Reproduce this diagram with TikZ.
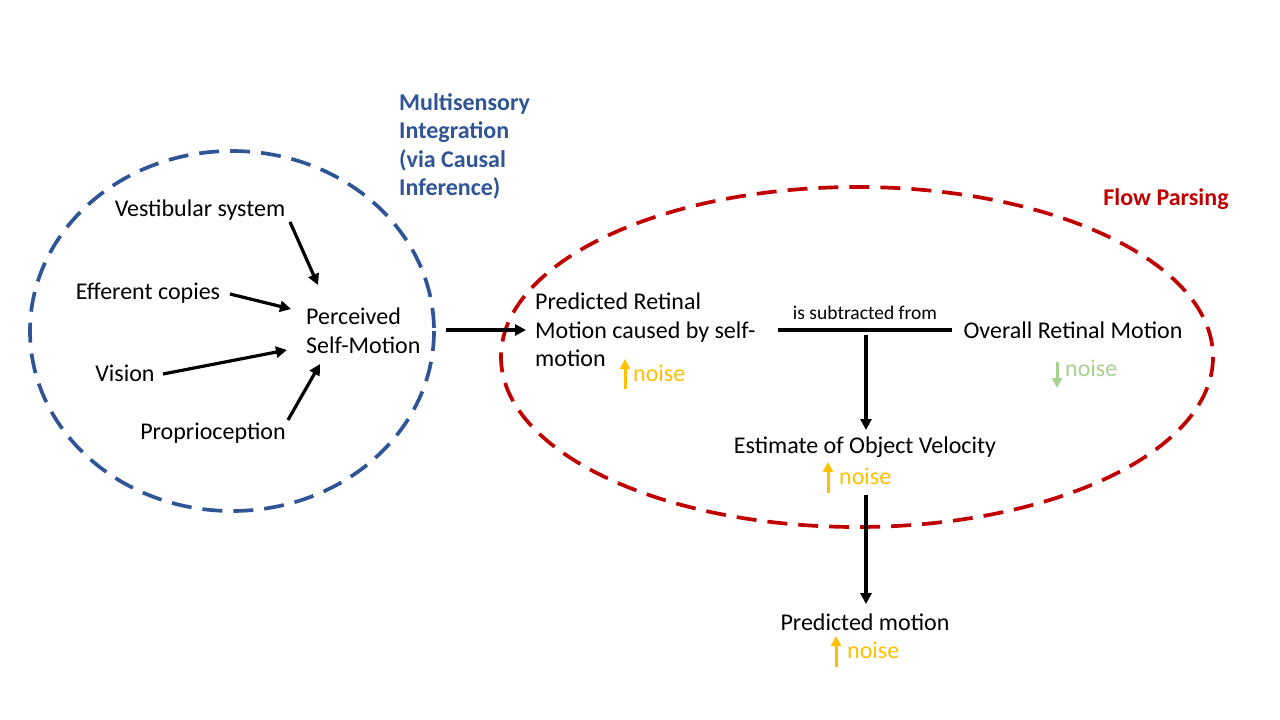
\documentclass[tikz,border=0pt]{standalone}
\usepackage{fontspec}
\setmainfont{Carlito}
\usetikzlibrary{arrows.meta}
\definecolor{mblue}{HTML}{2F5597}
\definecolor{mred}{HTML}{C00000}
\definecolor{myel}{HTML}{FFC000}
\definecolor{mgreen}{HTML}{A9D18E}
\tikzset{
  lbl/.style={font=\fontsize{24}{28.5}\selectfont, inner sep=0pt, align=left},
  small/.style={font=\fontsize{19.5}{22}\selectfont, inner sep=0pt},
  conn/.style={line width=3.2pt, -{Triangle[length=11pt,width=11pt]}},
  plain/.style={line width=3.2pt},
  noisearr/.style={line width=3pt, -{Triangle[length=10pt,width=10pt]}},
  dashring/.style={line width=3.7pt, dash pattern=on 20pt off 11pt},
}
\begin{document}
\begin{tikzpicture}[x=1pt,y=-1pt]
\useasboundingbox (0,0) rectangle (1280,720);
% ellipses
\draw[dashring, mblue] (232,331) ellipse [x radius=202, y radius=180];
\draw[dashring, mred] (857,357) ellipse [x radius=356, y radius=170];
% titles
\node[lbl, text=mblue, font=\fontsize{24}{28.5}\selectfont\bfseries, anchor=north west] (title1) at (399,93) {Multisensory\\Integration\\(via Causal\\Inference)};
\node[lbl, text=mred, font=\fontsize{24}{28}\selectfont\bfseries] (title2) at (1166,199) {Flow Parsing};
% left nodes
\node[lbl] (vest) at (200,210) {Vestibular system};
\node[lbl] (eff) at (148,293) {Efferent copies};
\node[lbl] (vis) at (125,373) {Vision};
\node[lbl] (prop) at (213,433) {Proprioception};
\node[lbl, anchor=west] (perc) at (306,331) {Perceived\\Self-Motion};
\coordinate (v1) at (290,222); \coordinate (v2) at (318,285);
\coordinate (e1) at (230,294); \coordinate (e2) at (291,309);
\coordinate (s1) at (163,374); \coordinate (s2) at (287,350);
\coordinate (p1) at (288,420); \coordinate (p2) at (320,364);
\draw[conn] (v1) -- (v2);
\draw[conn] (e1) -- (e2);
\draw[conn] (s1) -- (s2);
\draw[conn] (p1) -- (p2);
% to flow parsing
\node[lbl, anchor=west] (pred) at (535,330) {Predicted Retinal\\Motion caused by self-\\motion};
\coordinate (a1) at (446,330); \coordinate (a2) at (526,330);
\draw[conn] (a1) -- (a2);
\node[lbl] (overall) at (1073,330) {Overall Retinal Motion};
\coordinate (h1) at (778,330); \coordinate (h2) at (952,330);
\draw[plain] (h1) -- (h2);
\node[small] (sub) at (865,313) {is subtracted from};
\node[lbl] (est) at (865,447) {Estimate of Object Velocity};
\node[lbl] (pm) at (865,622) {Predicted motion};
\coordinate (t1) at (866,335); \coordinate (t2) at (866,430);
\draw[conn] (t1) -- (t2);
\coordinate (d1) at (866,495); \coordinate (d2) at (866,604);
\draw[conn] (d1) -- (d2);
% noise markers
\draw[noisearr, myel] (625,389) -- (625,359);
\node[lbl, text=myel, anchor=west] (n1) at (633,373) {noise};
\draw[noisearr, mgreen] (1057,362) -- (1057,388);
\node[lbl, text=mgreen, anchor=west] (n2) at (1065,368) {noise};
\draw[noisearr, myel] (828,493) -- (828,462);
\node[lbl, text=myel, anchor=west] (n3) at (839,476) {noise};
\draw[noisearr, myel] (836,667) -- (836,636);
\node[lbl, text=myel, anchor=west] (n4) at (847,650) {noise};
\end{tikzpicture}
\end{document}
